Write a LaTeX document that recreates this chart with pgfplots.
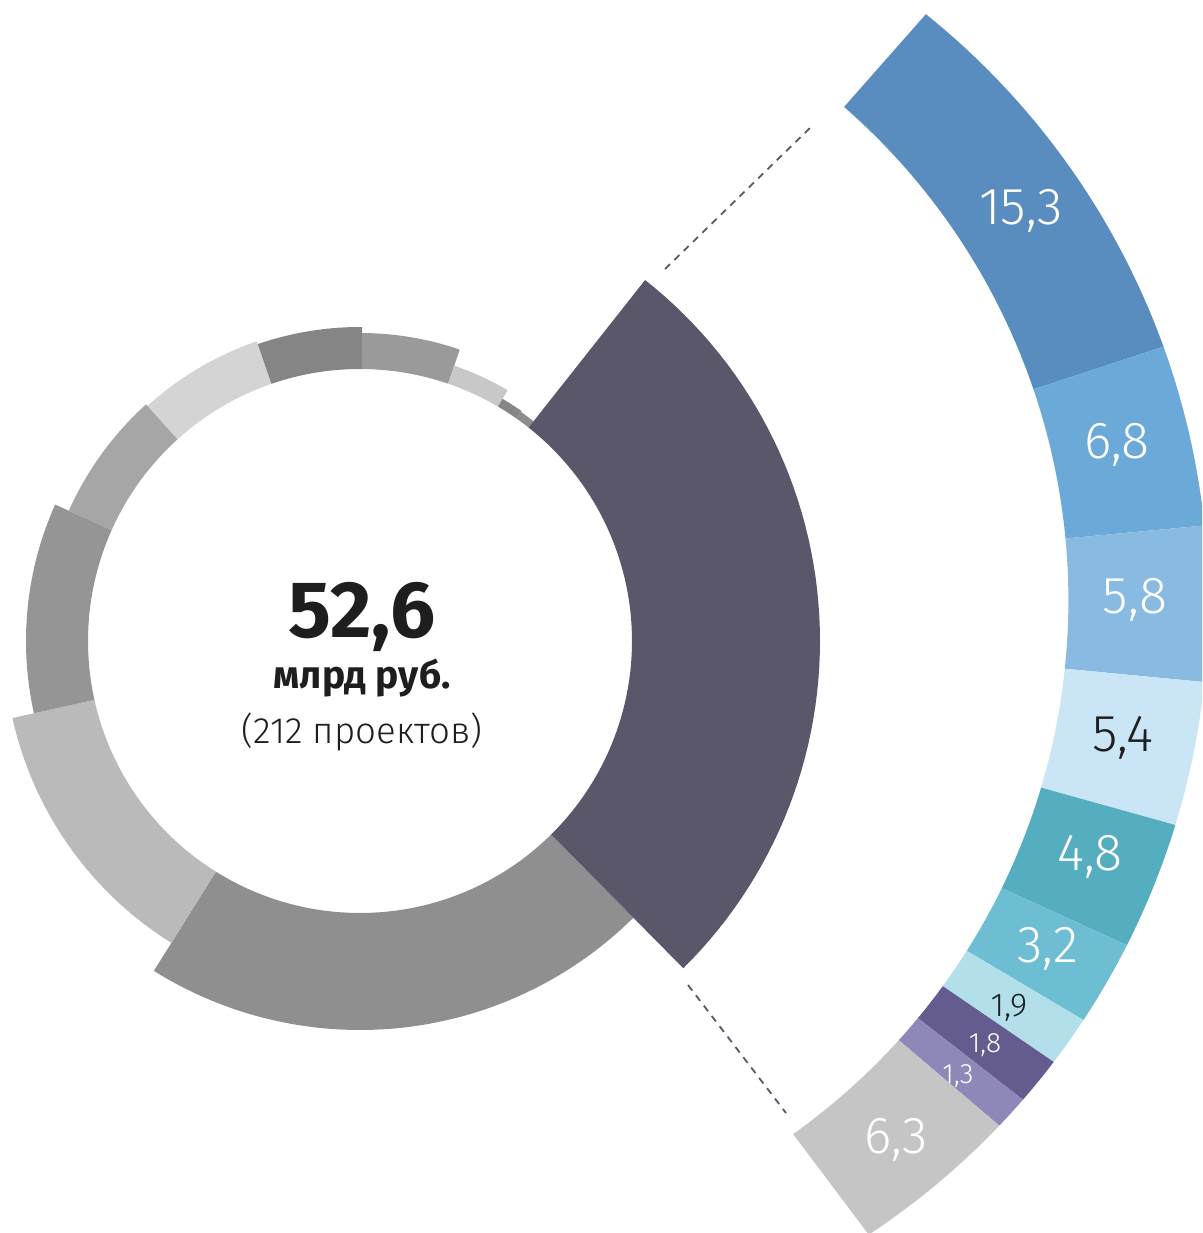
\documentclass[border=0pt]{standalone}
\usepackage{pgfplots}
\pgfplotsset{compat=1.18}
\usepackage{fontspec}
\setmainfont{Fira Sans}
\newfontfamily\firalight{Fira Sans Light}

\definecolor{cdark}{HTML}{5B576B}
\definecolor{cA}{HTML}{598DBF}
\definecolor{cB}{HTML}{6AA9D8}
\definecolor{cC}{HTML}{88BAE2}
\definecolor{cD}{HTML}{CAE5F6}
\definecolor{cE}{HTML}{55ADC0}
\definecolor{cF}{HTML}{6DBED3}
\definecolor{cG}{HTML}{B3DFEB}
\definecolor{cH}{HTML}{645B8F}
\definecolor{cI}{HTML}{8E88B8}
\definecolor{cJ}{HTML}{C5C5C5}
\definecolor{g1}{HTML}{8C8C8C}
\definecolor{g2}{HTML}{868686}
\definecolor{g3}{HTML}{C8C8C8}
\definecolor{g4}{HTML}{9A9A9A}
\definecolor{g5}{HTML}{858585}
\definecolor{g6}{HTML}{D4D4D4}
\definecolor{g7}{HTML}{A6A6A6}
\definecolor{g8}{HTML}{959595}
\definecolor{g9}{HTML}{BABABA}
\definecolor{g10}{HTML}{8F8F8F}
\definecolor{ctext}{HTML}{1E1E1E}

% left donut sector: #1 outer radius, #2 start angle, #3 end angle, #4 colour
\newcommand{\lsec}[4]{%
\addplot[draw=none, fill=#4, samples at={0,1,...,60,100,101,...,160}, variable=\t]
({360 + (\t<80 ? #1*cos(#2+((#3)-(#2))*\t/60) : 272*cos(#3+((#2)-(#3))*(\t-100)/60))},
 {641 - (\t<80 ? #1*sin(#2+((#3)-(#2))*\t/60) : 272*sin(#3+((#2)-(#3))*(\t-100)/60))});
}
% right arc segment (share of 52,6): #1 cumulative value before it, #2 value, #3 colour
\newcommand{\rsec}[3]{%
\addplot[draw=none, fill=#3, samples at={0,1,...,60,100,101,...,160}, variable=\t]
({\t<80 ? 452.5+756*cos(51.23-2.0498*(#1+#2-#2*\t/60)) : 413.4+655*cos(48.89-1.9669*(#1+#2*(\t-100)/60))},
 {\t<80 ? 603.6-756*sin(51.23-2.0498*(#1+#2-#2*\t/60)) : 600.4-655*sin(48.89-1.9669*(#1+#2*(\t-100)/60))});
}

\begin{document}
\begin{tikzpicture}
\begin{axis}[
  scale only axis, width=601pt, height=616.5pt,
  xmin=0, xmax=1202, ymin=0, ymax=1233, y dir=reverse,
  hide axis, clip=true]
% left donut
\lsec{389}{238.0}{314.65}{g10}
\lsec{356}{192.5}{238.0}{g9}
\lsec{334}{155.9}{192.5}{g8}
\lsec{319}{132.1}{155.9}{g7}
\lsec{317}{109.0}{132.1}{g6}
\lsec{314}{89.6}{109.0}{g5}
\lsec{308}{71.1}{89.6}{g4}
\lsec{291}{59.5}{71.1}{g3}
\lsec{281}{54.9}{59.5}{g2}
\lsec{280}{51.7}{54.9}{g1}
\lsec{460}{-45.35}{51.7}{cdark}
% right arc: 15,3 6,8 5,8 5,4 4,8 3,2 1,9 1,8 1,3 6,3 (total 52,6)
\rsec{0}{15.3}{cA}
\rsec{15.3}{6.8}{cB}
\rsec{22.1}{5.8}{cC}
\rsec{27.9}{5.4}{cD}
\rsec{33.3}{4.8}{cE}
\rsec{38.1}{3.2}{cF}
\rsec{41.3}{1.9}{cG}
\rsec{43.2}{1.8}{cH}
\rsec{45.0}{1.3}{cI}
\rsec{46.3}{6.3}{cJ}
% dashed connectors
\addplot[cdark, line width=0.9pt, dash pattern=on 3.5pt off 3pt] coordinates {(665,269) (810,128)};
\addplot[cdark, line width=0.9pt, dash pattern=on 3.5pt off 3pt] coordinates {(688,985) (786,1113)};
% labels
\node[text=white, font=\firalight\fontsize{26}{30}\selectfont] at (axis cs:1021,211) {15,3};
\node[text=white, font=\firalight\fontsize{26}{30}\selectfont] at (axis cs:1117,445) {6,8};
\node[text=white, font=\firalight\fontsize{26}{30}\selectfont] at (axis cs:1135,600) {5,8};
\node[text=ctext, font=\firalight\fontsize{26}{30}\selectfont] at (axis cs:1123,738) {5,4};
\node[text=white, font=\firalight\fontsize{26}{30}\selectfont] at (axis cs:1090,857) {4,8};
\node[text=white, font=\firalight\fontsize{26}{30}\selectfont] at (axis cs:1048,949) {3,2};
\node[text=ctext, font=\firalight\fontsize{16.5}{19}\selectfont] at (axis cs:1009,1008) {1,9};
\node[text=white, font=\firalight\fontsize{14}{16}\selectfont] at (axis cs:985,1045) {1,8};
\node[text=white, font=\firalight\fontsize{14}{16}\selectfont] at (axis cs:958,1076) {1,3};
\node[text=white, font=\firalight\fontsize{26}{30}\selectfont] at (axis cs:896,1140) {6,3};
% centre text
\node[anchor=base, text=ctext, font=\bfseries\fontsize{40}{44}\selectfont] at (axis cs:362,637) {52,6};
\node[anchor=base, text=ctext, font=\bfseries\fontsize{19.5}{23}\selectfont] at (axis cs:362,688) {млрд руб.};
\node[anchor=base, text=ctext, font=\firalight\fontsize{18.3}{21}\selectfont] at (axis cs:362,743) {(212 проектов)};
\end{axis}
\pgfresetboundingbox
\path[use as bounding box] (current axis.south west) rectangle (current axis.north east);
\end{tikzpicture}
\end{document}
